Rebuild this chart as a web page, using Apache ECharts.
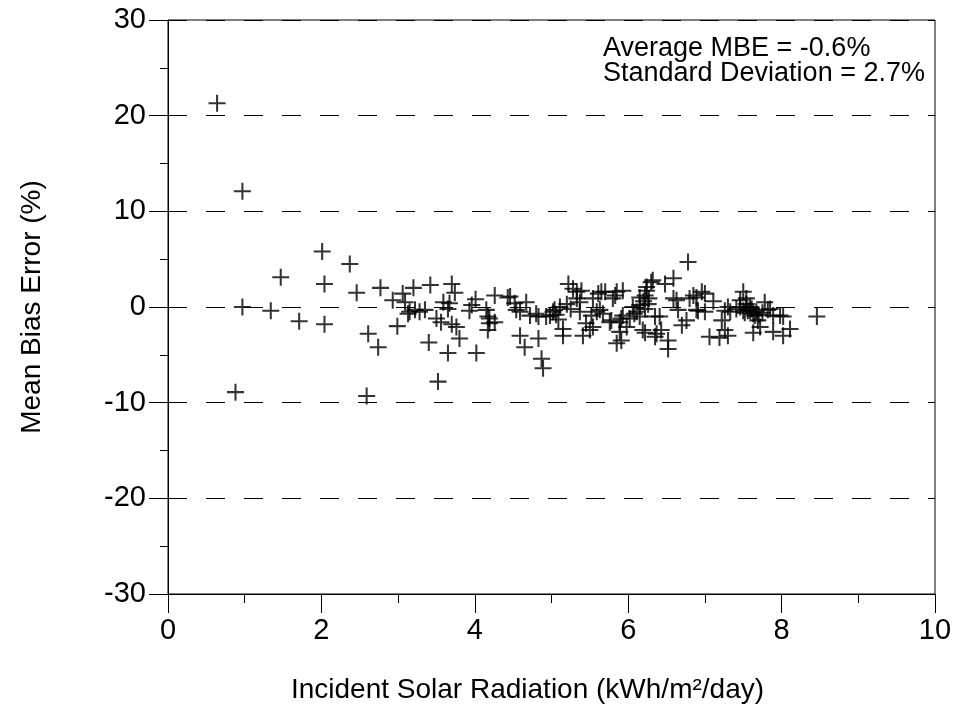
<!DOCTYPE html>
<html>
<head>
<meta charset="utf-8">
<script src="https://cdn.jsdelivr.net/npm/echarts@6/dist/echarts.min.js"></script>
<style>
  html, body { margin: 0; padding: 0; background: #fff; }
  #chart { width: 957px; height: 721px; }
</style>
</head>
<body>
<div id="chart"></div>
<script>
// incident solar radiation (kWh/m2/day) vs mean bias error (%)
var radiation = [
  0.64, 0.97, 0.88, 0.97, 1.34, 1.47, 1.71, 2.01, 2.04, 2.04, 2.37, 2.46, 2.59, 2.61, 2.74, 2.77, 2.93, 2.99,
  3.06, 3.09, 3.13, 3.20, 3.15, 3.22, 3.28, 3.35, 3.42, 3.40, 3.50, 3.52, 3.56, 3.59, 3.65, 3.67, 3.65, 3.70,
  3.70, 3.74, 3.76, 3.80, 3.93, 3.96, 4.01, 4.02,
  4.15, 4.17, 4.19, 4.17, 4.19, 4.26, 4.26, 4.43, 4.46, 4.52, 4.54, 4.59, 4.59, 4.65, 4.67, 4.72, 4.80, 4.83,
  4.83, 4.87, 4.89, 4.93, 4.98,
  5.02, 5.04, 5.09, 5.11, 5.15, 5.15, 5.22, 5.28, 5.33, 5.39, 5.33, 5.37, 5.37, 5.41, 5.45, 5.50, 5.52, 5.54,
  5.54, 5.59, 5.61, 5.63, 5.67, 5.65, 5.70, 5.76, 5.78, 5.80, 5.83, 5.85, 5.85, 5.89, 5.89, 5.91, 5.91, 5.93,
  5.93, 5.98, 5.06, 5.20, 5.25,
  6.06, 6.11, 6.15, 6.15, 6.15, 6.19, 6.22, 6.22, 6.22, 6.24, 6.24, 6.30, 6.26, 6.32, 6.35, 6.35, 6.37, 6.41,
  6.43, 6.48, 6.52, 6.52, 6.59, 6.59, 6.63, 6.65, 6.70, 6.76, 6.78, 6.80, 6.85, 6.89, 6.89, 6.91, 6.96,
  6.02, 6.08, 6.20, 6.27,
  7.00, 7.00, 7.06, 7.11, 7.19, 7.22, 7.26, 7.26, 7.30, 7.30, 7.33, 7.41, 7.46, 7.46, 7.50, 7.50, 7.54, 7.54,
  7.56, 7.59, 7.59, 7.63, 7.63, 7.65, 7.69, 7.72, 7.78, 7.82, 7.85, 7.89, 7.89, 7.98,
  7.52, 7.61, 7.67, 7.70, 7.75,
  8.02, 8.02, 8.11, 8.46
];
var biasError = [
  21.3, 12.1, -8.9, 0.0, -0.4, 3.1, -1.5, 5.8, 2.4, -1.8, 4.5, 1.5, -9.3, -2.8, -4.2, 2.0, 0.7, -2.0,
  1.4, 0.5, -0.7, 2.0, -0.5, -0.3, -0.5, -0.3, 2.3, -3.7, -1.2, -7.8, -1.6, 0.5, -0.2, 0.4, -4.8, 2.4,
  -1.8, 1.5, -2.1, -3.3, -0.4, 0.2, 0.8, -4.8,
  -0.3, -1.0, -1.7, -2.4, -1.2, 1.2, -1.6, 1.0, 1.1, 0.4, -0.3, -0.5, -3.0, -4.2, 0.5, -0.9, -0.7, -1.0,
  -3.3, -5.4, -6.4, -1.0, -0.9,
  -0.5, -0.3, -1.3, 0.0, -2.3, -3.0, 2.4, 1.9, 1.6, 1.7, 0.9, 0.5, -0.5, -3.0, -1.7, -2.4, -0.9, -2.1,
  0.9, -0.5, 1.4, -0.3, -0.7, 1.6, 1.6, -1.6, -1.4, 0.9, 1.2, 1.6, -3.8, -1.6, -2.6, -3.5, -1.2, 1.7,
  -0.9, -2.1, -0.8, 0.3, -0.2,
  0.0, -0.5, 1.0, 0.2, -1.0, -2.4, 1.2, -0.2, -2.7, 2.1, 1.7, 2.6, 0.3, 2.8, -3.1, -1.0, -2.8, -1.0,
  -2.4, 2.4, -3.5, -4.4, 3.0, 0.9, 0.7, -0.3, -1.9, -1.4, 4.7, 0.9, 1.2, 1.0, -0.3, -0.4, 1.6,
  -1.2, -0.7, 0.6, 0.9,
  1.4, -0.5, -3.1, 0.6, -3.2, -1.4, -2.4, -0.4, -3.0, 0.0, -0.5, -0.2, 0.7, 0.0, 1.6, -0.4, 0.9, 0.3,
  -0.4, 0.0, -0.4, -0.7, -2.7, -0.9, -1.4, -2.1, 0.5, -0.3, -0.2, -0.9, -2.6, -0.9,
  -0.6, -0.2, -0.5, -0.8, -0.6,
  -3.0, -1.0, -2.3, -1.0
];
var statsText = ['Average MBE = -0.6%', 'Standard Deviation = 2.7%'];

var points = radiation.map(function (x, i) { return [x, biasError[i]]; });

var chart = echarts.init(document.getElementById('chart'));

var font = 'Liberation Sans, Arial, sans-serif';
// plus-shaped marker
var plus = 'path://M8.8,0h2.4v8.8h8.8v2.4h-8.8v8.8h-2.4v-8.8h-8.8v-2.4h8.8z';

var option = {
  animation: false,
  title: {
    text: statsText.join('\n'),
    left: 598,
    top: 31,
    textStyle: {
      fontFamily: font,
      fontSize: 27,
      fontWeight: 'normal',
      color: '#000',
      lineHeight: 25
    }
  },
  grid: {
    left: 168,
    right: 22,
    top: 20,
    bottom: 127,
    show: true,
    borderColor: '#000',
    borderWidth: 1
  },
  xAxis: {
    type: 'value',
    min: 0,
    max: 10,
    interval: 2,
    name: 'Incident Solar Radiation (kWh/m²/day)',
    nameLocation: 'middle',
    nameGap: 82,
    nameTextStyle: { fontFamily: font, fontSize: 28, color: '#000', padding: [0, 48, 0, 0] },
    axisLine: { onZero: false, lineStyle: { color: '#000', width: 1 } },
    axisTick: { length: 19, lineStyle: { color: '#000' } },
    minorTick: { show: true, splitNumber: 2, length: 9, lineStyle: { color: '#000' } },
    axisLabel: { fontFamily: font, fontSize: 29, color: '#000', margin: 22 },
    splitLine: { show: false }
  },
  yAxis: {
    type: 'value',
    min: -30,
    max: 30,
    interval: 10,
    name: 'Mean Bias Error (%)',
    nameLocation: 'middle',
    nameGap: 122,
    nameTextStyle: { fontFamily: font, fontSize: 28, color: '#000' },
    axisLine: { show: true, onZero: false, lineStyle: { color: '#000', width: 1 } },
    axisTick: { show: true, length: 19, lineStyle: { color: '#000' } },
    minorTick: { show: true, splitNumber: 2, length: 8, lineStyle: { color: '#000' } },
    axisLabel: { fontFamily: font, fontSize: 29, color: '#000', margin: 22 },
    splitLine: { show: true, lineStyle: { color: '#000', width: 1, type: [19, 19] } }
  },
  series: [
    {
      type: 'scatter',
      data: points,
      symbol: plus,
      symbolSize: 17,
      itemStyle: { color: '#000' },
      silent: true
    }
  ]
};

chart.setOption(option);
</script>
</body>
</html>
